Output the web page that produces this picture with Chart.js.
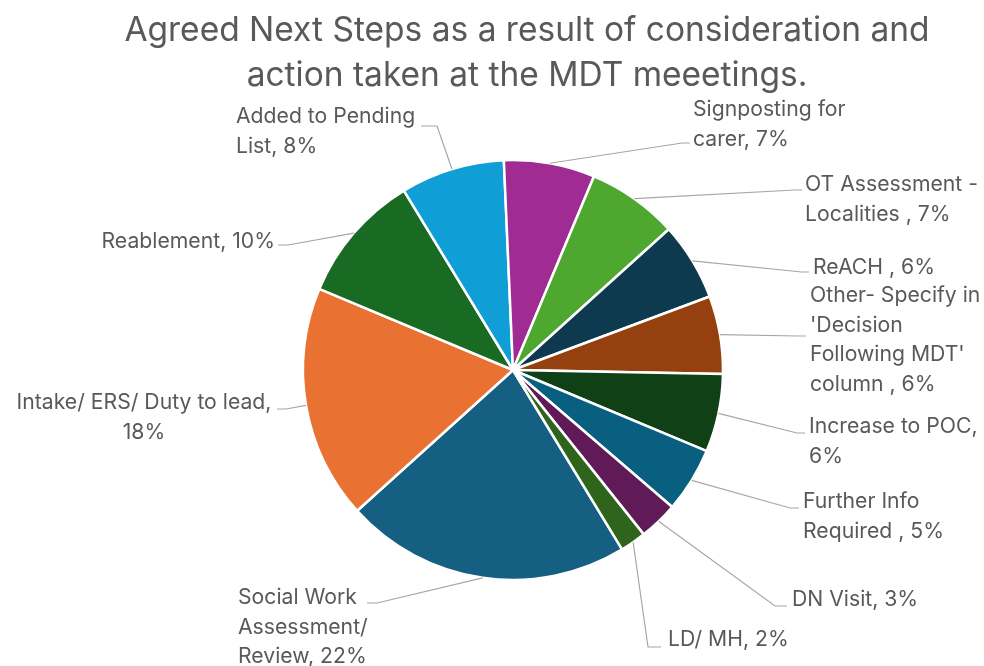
<!DOCTYPE html>
<html>
<head>
<meta charset="utf-8">
<script src="https://cdn.jsdelivr.net/npm/chart.js@4.4.1/dist/chart.umd.min.js"></script>
<style>
  html, body { margin: 0; padding: 0; background: #ffffff; }
  #wrap { width: 984px; height: 666px; position: relative; }
</style>
</head>
<body>
<div id="wrap"><canvas id="chart" width="984" height="666"></canvas></div>
<script>
// Agreed next steps, share of cases (%)
const categories = [
  "Social Work Assessment/ Review",
  "Intake/ ERS/ Duty to lead",
  "Reablement",
  "Added to Pending List",
  "Signposting for carer",
  "OT Assessment - Localities ",
  "ReACH ",
  "Other- Specify in 'Decision Following MDT' column ",
  "Increase to POC",
  "Further Info Required ",
  "DN Visit",
  "LD/ MH"
];
const shares = [22, 18, 10, 8, 7, 7, 6, 6, 6, 5, 3, 2];
const sliceColors = [
  "#156082", "#E97132", "#196B24", "#0F9ED5", "#A02B93", "#4EA72E",
  "#0D3A4F", "#94400F", "#0F4016", "#095F80", "#601A58", "#2F641C"
];
const titleLines = [
  "Agreed Next Steps as a result of consideration and",
  "action taken at the MDT meeetings."
];

// Label placement: words per line, text anchor, alignment, leader bend and end
const labelLayout = [
  { words: [2, 1, 2],    x: 238, y: 598, align: "left",   bend: [377, 603], end: [367, 603] },
  { words: [5, 1],       x: 144, y: 403, align: "center", bend: [286, 409], end: [277, 409] },
  { words: [2],          x: 275, y: 242, align: "right",  bend: [288, 245], end: [278, 245] },
  { words: [3, 2],       x: 236, y: 117, align: "left",   bend: [437, 126], end: [421, 126] },
  { words: [2, 2],       x: 693, y: 110, align: "left",   bend: [682, 143], end: [690, 143] },
  { words: [3, 3],       x: 805, y: 185, align: "left",   bend: [795, 190], end: [802, 190] },
  { words: [3],          x: 813, y: 268, align: "left",   bend: [802, 272], end: [809, 272] },
  { words: [3, 1, 2, 3], x: 810, y: 296, align: "left",   bend: [798, 336], end: [806, 336] },
  { words: [3, 1],       x: 809, y: 427, align: "left",   bend: [797, 433], end: [805, 433] },
  { words: [2, 3],       x: 803, y: 502, align: "left",   bend: [790, 508], end: [799, 508] },
  { words: [3],          x: 792, y: 600, align: "left",   bend: [775, 606], end: [787, 606] },
  { words: [3],          x: 668, y: 640, align: "left",   bend: [648, 647], end: [661, 647] }
];

const TEXT_COLOR = "#595959";
const LEADER_COLOR = "#a6a6a6";
const LABEL_FONT = "21.2px Inter, Roboto, 'Liberation Sans', sans-serif";
const LABEL_LINE = 29.5;
const TITLE_FONT = "33.5px Inter, Roboto, 'Liberation Sans', sans-serif";

function labelText(i) {
  const words = (categories[i] + ", " + shares[i] + "%").split(/\s+/).filter(Boolean);
  const lines = [];
  let k = 0;
  for (const n of labelLayout[i].words) {
    lines.push(words.slice(k, k + n).join(" "));
    k += n;
  }
  return lines;
}

const titlePlugin = {
  id: "chartTitle",
  afterDraw(chart) {
    const ctx = chart.ctx;
    ctx.save();
    ctx.font = TITLE_FONT;
    ctx.fillStyle = TEXT_COLOR;
    ctx.textAlign = "center";
    ctx.textBaseline = "middle";
    ctx.fillText(titleLines[0], 527, 31);
    ctx.fillText(titleLines[1], 527, 76);
    ctx.restore();
  }
};

const outsideLabels = {
  id: "outsideLabels",
  afterDatasetsDraw(chart) {
    const ctx = chart.ctx;
    const meta = chart.getDatasetMeta(0);
    ctx.save();
    meta.data.forEach((arc, i) => {
      const p = arc.getProps(["x", "y", "startAngle", "endAngle", "outerRadius"], true);
      const mid = (p.startAngle + p.endAngle) / 2;
      const sx = p.x + Math.cos(mid) * p.outerRadius;
      const sy = p.y + Math.sin(mid) * p.outerRadius;
      const L = labelLayout[i];
      ctx.strokeStyle = LEADER_COLOR;
      ctx.lineWidth = 1.2;
      ctx.beginPath();
      ctx.moveTo(sx, sy);
      ctx.lineTo(L.bend[0], L.bend[1]);
      ctx.lineTo(L.end[0], L.end[1]);
      ctx.stroke();

      ctx.font = LABEL_FONT;
      ctx.fillStyle = TEXT_COLOR;
      ctx.textAlign = L.align;
      ctx.textBaseline = "middle";
      labelText(i).forEach((line, j) => {
        ctx.fillText(line, L.x, L.y + j * LABEL_LINE);
      });
    });
    ctx.restore();
  }
};

new Chart(document.getElementById("chart"), {
  type: "pie",
  data: {
    labels: categories,
    datasets: [{
      data: shares,
      backgroundColor: sliceColors,
      borderColor: "#ffffff",
      borderWidth: 2.5
    }]
  },
  options: {
    responsive: false,
    animation: false,
    devicePixelRatio: 1,
    rotation: 148.7,
    radius: 210,
    layout: { padding: { left: 304, right: 262, top: 161, bottom: 87 } },
    plugins: {
      legend: { display: false },
      tooltip: { enabled: false },
      title: { display: false }
    }
  },
  plugins: [titlePlugin, outsideLabels]
});
</script>
</body>
</html>
